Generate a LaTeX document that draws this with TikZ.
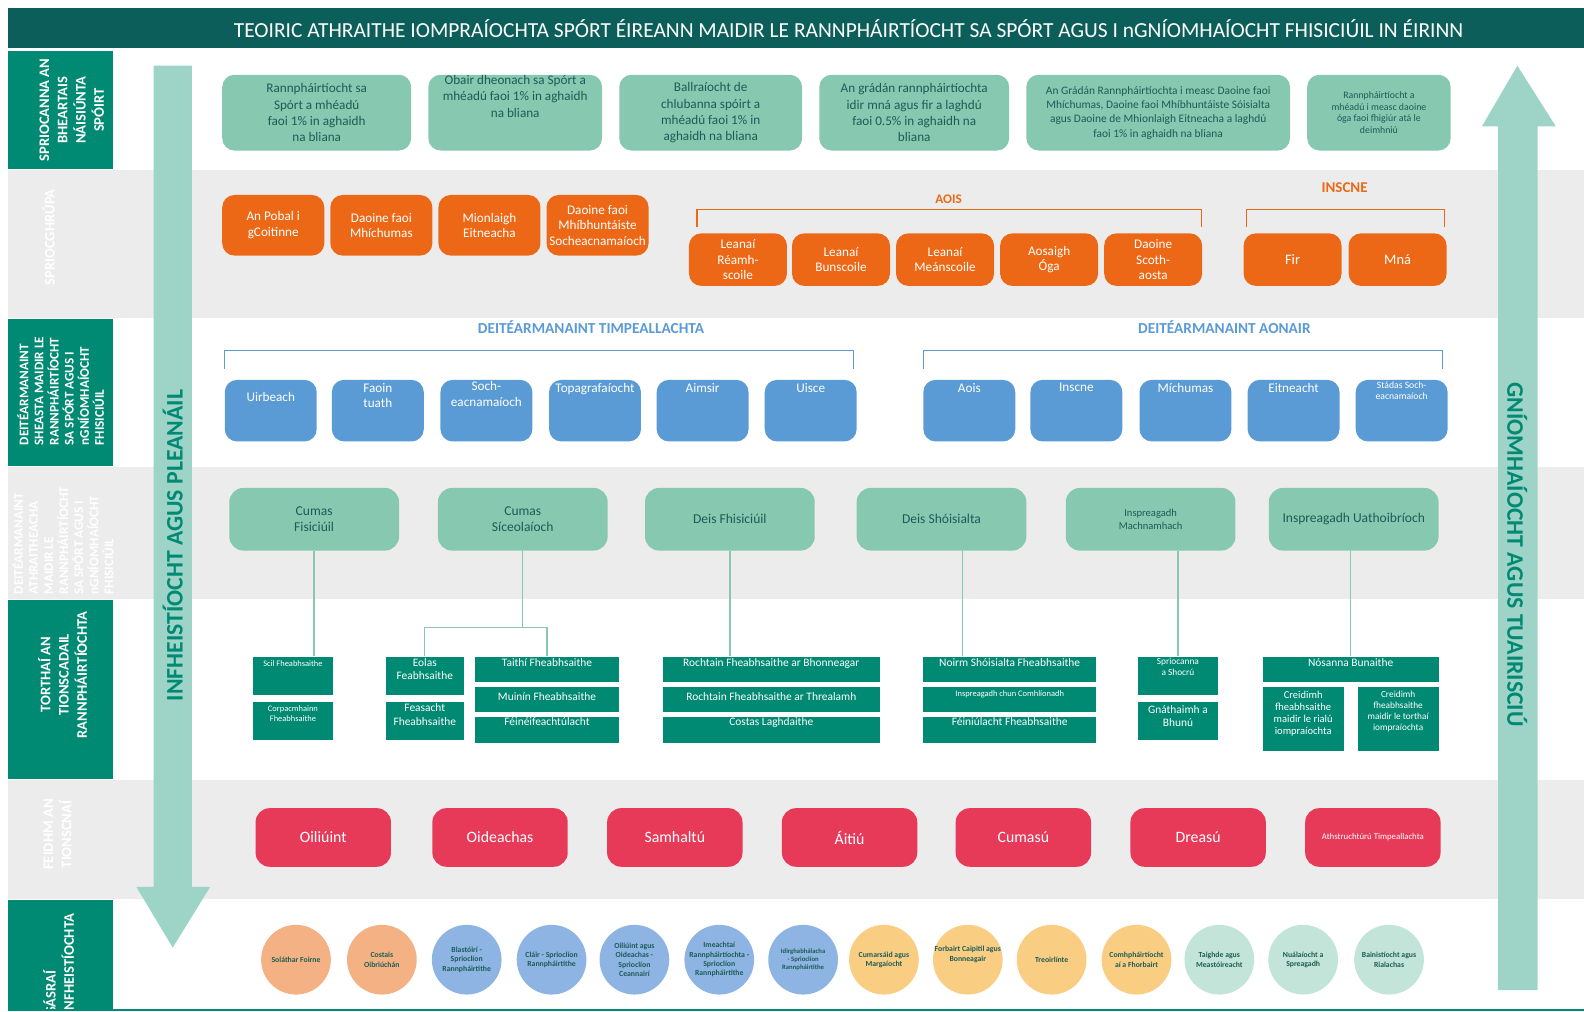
\documentclass[tikz,border=0pt]{standalone}
\usepackage{fontspec}
\setmainfont{Carlito}
\usetikzlibrary{calc}

\definecolor{titleBar}{RGB}{12,94,90}
\definecolor{tealBox}{RGB}{0,137,115}
\definecolor{bandGray}{RGB}{236,236,236}
\definecolor{arrowMint}{RGB}{158,212,200}
\definecolor{mint}{RGB}{134,200,176}
\definecolor{mintText}{RGB}{28,92,86}
\definecolor{orangeBox}{RGB}{236,104,22}
\definecolor{blueBox}{RGB}{91,155,213}
\definecolor{redBox}{RGB}{230,58,88}
\definecolor{salmonDot}{RGB}{244,177,131}
\definecolor{skyDot}{RGB}{141,180,226}
\definecolor{sandDot}{RGB}{250,206,130}
\definecolor{mintDot}{RGB}{195,228,216}

\newlength{\px}
\setlength{\px}{0.020204cm}
\newcommand{\setfs}[2]{\fontsize{#1}{#2}\selectfont}

\begin{document}
\begin{tikzpicture}[x=0.020204cm, y=-0.020204cm,
  sidelbl/.style={rotate=90, text=white, font=\bfseries\setfs{8.3}{10.4}, align=center, inner sep=0pt},
  arrowtxt/.style={text=tealBox, font=\bfseries\setfs{13.5}{16}, inner sep=0pt},
  goal/.style={fill=mint, rounded corners=7pt, text=mintText, align=center, font=\setfs{7.5}{9.2}, minimum height=75\px, inner sep=1pt},
  goallbl/.style={anchor=north, yshift=-0.5pt, align=center, text=mintText, font=\setfs{7.5}{9.2}, inner sep=0pt},
  grp/.style={fill=orangeBox, rounded corners=7pt, text=white, align=center, font=\setfs{7.5}{8.8}, minimum width=101\px, minimum height=60\px, inner sep=1pt},
  age/.style={grp, minimum width=97\px, minimum height=52\px},
  brk/.style={draw=#1, line width=0.7pt},
  brktitle/.style={font=\bfseries\setfs{7.5}{9}, inner sep=0pt},
  det/.style={fill=blueBox, rounded corners=7pt, minimum width=91\px, minimum height=61\px, inner sep=0pt},
  detlbl/.style={anchor=north, yshift=-2pt, align=center, text=white, font=\setfs{7.5}{8.8}, inner sep=0pt},
  mech/.style={fill=mint, rounded corners=8pt, text=mintText, align=center, font=\setfs{7.7}{9.2}, minimum width=168\px, minimum height=62\px, inner sep=1pt},
  outc/.style={fill=tealBox, minimum height=25\px, inner sep=0pt},
  outlbl/.style={anchor=north, yshift=-1pt, align=center, text=white, font=\setfs{6.5}{7.6}, inner sep=0pt},
  func/.style={fill=redBox, rounded corners=8pt, text=white, font=\setfs{9}{10.5}, align=center, minimum width=134\px, minimum height=58\px, inner sep=1pt},
  circ/.style={circle, fill=#1, minimum size=69\px, inner sep=0pt},
  ctxt/.style={text=mintText, font=\bfseries\setfs{4.4}{5.3}, align=center, inner sep=0pt},
  conn/.style={draw=mint, line width=0.8pt}
]

  \useasboundingbox (0,0) rectangle (1568,1001);
  \fill[white] (0,0) rectangle (1568,1001);

  % Title
  \fill[titleBar] (8,8) rectangle (1568,48);
  \node[text=white, font=\setfs{12.2}{14}] (title) at (840,28) {TEOIRIC ATHRAITHE IOMPRAÍOCHTA SPÓRT ÉIREANN MAIDIR LE RANNPHÁIRTÍOCHT SA SPÓRT AGUS I nGNÍOMHAÍOCHT FHISICIÚIL IN ÉIRINN};

  % Bands
  \fill[bandGray] (8,168) rectangle (1568,315);
  \fill[bandGray] (8,462) rectangle (1568,593);
  \fill[bandGray] (8,772) rectangle (1568,890);

  % Row labels
  \fill[tealBox] (8,50) rectangle (112,167);
  \fill[tealBox] (8,316) rectangle (112,461);
  \fill[tealBox] (8,594) rectangle (112,771);
  \fill[tealBox] (8,891) rectangle (112,999);
  \node[sidelbl] (lblGoals) at (71,109) {SPRIOCANNA AN\\BHEARTAIS\\NÁISIÚNTA\\SPÓIRT};
  \node[sidelbl] (lblGroups) at (48,235) {SPRIOCGHRÚPA};
  \node[sidelbl, align=left, font=\bfseries\setfs{7.5}{8.6}] (lblFixed) at (60,387) {DEITÉARMANAINT\\SHEASTA MAIDIR LE\\RANNPHÁIRTÍOCHT\\SA SPÓRT AGUS I\\nGNÍOMHAÍOCHT\\FHISICIÚIL};
  \node[sidelbl, align=left, font=\bfseries\setfs{7.5}{8.6}] (lblChange) at (62,535) {DEITÉARMANAINT\\ATHRAITHEACHA\\MAIDIR LE\\RANNPHÁIRTÍOCHT\\SA SPÓRT AGUS I\\nGNÍOMHAÍOCHT\\FHISICIÚIL};
  \node[sidelbl] (lblOut) at (62,668) {TORTHAÍ AN\\TIONSCADAIL\\RANNPHÁIRTÍOCHTA};
  \node[sidelbl] (lblFunc) at (57,826) {FEIDHM AN\\TIONSCNAÍ};
  \begin{scope}
    \clip (8,891) rectangle (112,999);
    \node[sidelbl, align=left, anchor=west] (lblMech) at (58,1004) {SÁSRAÍ\\INFHEISTÍOCHTA};
  \end{scope}

  % Big arrows
  \fill[arrowMint] (152,65) -- (190,65) -- (190,878) -- (208,878) -- (171,938) -- (135,878) -- (152,878) -- cycle;
  \node[arrowtxt, rotate=90] (plan) at (171,540) {INFHEISTÍOCHT AGUS PLEANÁIL};
  \fill[arrowMint] (1483,980) -- (1483,125) -- (1467,125) -- (1502,65) -- (1540,125) -- (1522,125) -- (1522,980) -- cycle;
  \node[arrowtxt, rotate=-90] (report) at (1502,549) {GNÍOMHAÍOCHT AGUS TUAIRISCIÚ};

  % Goals
  \node[goal, minimum width=187\px] (goal1) at (313.5,111.5) {Rannpháirtíocht sa\\Spórt a mhéadú\\faoi 1\% in aghaidh\\na bliana};
  \node[goal, minimum width=172\px, label={[goallbl]north:Obair dheonach sa Spórt a\\mhéadú faoi 1\% in aghaidh\\na bliana}] (goal2) at (510,111.5) {};
  \node[goal, minimum width=181\px] (goal3) at (703.5,111.5) {Ballraíocht de\\chlubanna spóirt a\\mhéadú faoi 1\% in\\aghaidh na bliana};
  \node[goal, minimum width=188\px] (goal4) at (905,111.5) {An grádán rannpháirtíochta\\idir mná agus fir a laghdú\\faoi 0.5\% in aghaidh na\\bliana};
  \node[goal, minimum width=261\px, font=\setfs{6.5}{8.2}] (goal5) at (1146.5,111.5) {An Grádán Rannpháirtíochta i measc Daoine faoi\\Mhíchumas, Daoine faoi Mhíbhuntáiste Sóisialta\\agus Daoine de Mhionlaigh Eitneacha a laghdú\\faoi 1\% in aghaidh na bliana};
  \node[goal, minimum width=142\px, font=\setfs{5.6}{6.8}] (goal6) at (1365,111.5) {Rannpháirtíocht a\\mhéadú i measc daoine\\óga faoi fhigiúr atá le\\deimhniú};

  % Target groups
  \node[grp] (pobal) at (270.5,223) {An Pobal i\\gCoitinne};
  \node[grp] (michumas) at (377.5,223) {Daoine faoi\\Mhíchumas};
  \node[grp] (mionlaigh) at (484.5,223) {Mionlaigh\\Eitneacha};
  \node[grp] (mibhunt) at (591.5,223) {Daoine faoi\\Mhíbhuntáiste\\Socheacnamaíoch};

  \draw[brk=orangeBox] (690,225) |- (1189,207) -- (1189,225);
  \node[brktitle, text=orangeBox] (aoisTitle) at (939,197) {AOIS};
  \node[age] (reamh) at (730.5,257) {Leanaí\\Réamh-\\scoile};
  \node[age] (bunsc) at (832.5,257) {Leanaí\\Bunscoile};
  \node[age] (meansc) at (935.5,257) {Leanaí\\Meánscoile};
  \node[age] (aosaigh) at (1038.5,257) {Aosaigh\\Óga};
  \node[age] (scoth) at (1141.5,257) {Daoine\\Scoth-\\aosta};

  \draw[brk=orangeBox] (1234,225) |- (1430,207) -- (1430,225);
  \node[brktitle, text=orangeBox, font=\bfseries\setfs{8.5}{10}] (inscneTitle) at (1331,186) {INSCNE};
  \node[age, font=\setfs{8.2}{9.5}] (fir) at (1279.5,257) {Fir};
  \node[age, font=\setfs{8.2}{9.5}] (mna) at (1383.5,257) {Mná};

  % Fixed determinants
  \node[brktitle, text=blueBox, font=\bfseries\setfs{8.7}{10}] (envTitle) at (585,324) {DEITÉARMANAINT TIMPEALLACHTA};
  \draw[brk=blueBox] (222,365) |- (845,347) -- (845,365);
  \node[det, label={[detlbl, yshift=-5pt]north:Uirbeach}] (uirbeach) at (268,406.5) {};
  \node[det, label={[detlbl]north:Faoin\\tuath}] (tuath) at (374,406.5) {};
  \node[det, label={[detlbl, yshift=1pt]north:Soch-\\eacnamaíoch}] (sochEnv) at (481.5,406.5) {};
  \node[det, label={[detlbl]north:Topagrafaíocht}] (topa) at (589,406.5) {};
  \node[det, label={[detlbl]north:Aimsir}] (aimsir) at (695.5,406.5) {};
  \node[det, label={[detlbl]north:Uisce}] (uisce) at (802.5,406.5) {};

  \node[brktitle, text=blueBox, font=\bfseries\setfs{8.7}{10}] (indTitle) at (1212,324) {DEITÉARMANAINT AONAIR};
  \draw[brk=blueBox] (914,365) |- (1428,347) -- (1428,365);
  \node[det, label={[detlbl]north:Aois}] (aois) at (959.5,406.5) {};
  \node[det, label={[detlbl]north:Inscne}] (inscne) at (1065.5,406.5) {};
  \node[det, label={[detlbl]north:Míchumas}] (michum) at (1173.5,406.5) {};
  \node[det, label={[detlbl]north:Eitneacht}] (eitneacht) at (1280.5,406.5) {};
  \node[det, label={[detlbl, font=\setfs{5.5}{6.6}, yshift=1pt]north:Stádas Soch-\\eacnamaíoch}] (stadas) at (1387.5,406.5) {};

  % Changeable determinants
  \node[mech] (cumasF) at (311,514) {Cumas\\Fisiciúil};
  \node[mech] (cumasS) at (517.5,514) {Cumas\\Síceolaíoch};
  \node[mech] (deisF) at (722.5,514) {Deis Fhisiciúil};
  \node[mech] (deisS) at (932,514) {Deis Shóisialta};
  \node[mech, font=\setfs{6}{7.2}] (inspM) at (1139,514) {Inspreagadh\\Machnamhach};
  \node[mech] (inspU) at (1340,514) {Inspreagadh Uathoibríoch};

  % Outcomes
  \node[outc, minimum width=80\px, minimum height=38\px, label={[outlbl, font=\setfs{4.8}{5.8}, yshift=-1pt]north:Scil Fheabhsaithe}] (scil) at (290,669) {};
  \node[outc, minimum width=80\px, minimum height=38\px, label={[outlbl, font=\setfs{4.8}{5.8}, yshift=-1pt]north:Corpacmhainn\\Fheabhsaithe}] (corp) at (290,714) {};
  \node[outc, minimum width=77\px, minimum height=38\px, label={[outlbl]north:Eolas\\Feabhsaithe}] (eolas) at (420.5,669) {};
  \node[outc, minimum width=77\px, minimum height=38\px, label={[outlbl]north:Feasacht\\Fheabhsaithe}] (feas) at (420.5,714) {};
  \node[outc, minimum width=143\px, label={[outlbl]north:Taithí Fheabhsaithe}] (taithi) at (541.5,662.5) {};
  \node[outc, minimum width=143\px, label={[outlbl, yshift=-2pt]north:Muinín Fheabhsaithe}] (muinin) at (541.5,692.5) {};
  \node[outc, minimum width=143\px, label={[outlbl, yshift=1pt]north:Féinéifeachtúlacht}] (fein) at (541.5,722.5) {};
  \node[outc, minimum width=215\px, label={[outlbl]north:Rochtain Fheabhsaithe ar Bhonneagar}] (roch1) at (763.5,662.5) {};
  \node[outc, minimum width=215\px, label={[outlbl, yshift=-2pt]north:Rochtain Fheabhsaithe ar Threalamh}] (roch2) at (763.5,692.5) {};
  \node[outc, minimum width=215\px, label={[outlbl, yshift=1pt]north:Costas Laghdaithe}] (costas) at (763.5,722.5) {};
  \node[outc, minimum width=171\px, label={[outlbl]north:Noirm Shóisialta Fheabhsaithe}] (noirm) at (999.5,662.5) {};
  \node[outc, minimum width=171\px, label={[outlbl, font=\setfs{4.8}{5.8}, yshift=-1pt]north:Inspreagadh chun Comhlíonadh}] (comhl) at (999.5,692.5) {};
  \node[outc, minimum width=171\px, label={[outlbl, yshift=1pt]north:Féiniúlacht Fheabhsaithe}] (feiniul) at (999.5,722.5) {};
  \node[outc, minimum width=80\px, minimum height=38\px, label={[outlbl, font=\setfs{5.3}{6.2}]north:Spriocanna\\a Shocrú}] (sprioc) at (1166,669) {};
  \node[outc, minimum width=80\px, minimum height=38\px, label={[outlbl, yshift=-1pt]north:Gnáthaimh a\\Bhunú}] (gnath) at (1166,714) {};
  \node[outc, minimum width=174\px, label={[outlbl]north:Nósanna Bunaithe}] (nosanna) at (1337,662.5) {};
  \node[outc, minimum width=80\px, minimum height=63\px, label={[outlbl, font=\setfs{6}{6.8}, yshift=-1.5pt]north:Creidimh\\fheabhsaithe\\maidir le rialú\\iompraíochta}] (creid1) at (1290,711.5) {};
  \node[outc, minimum width=80\px, minimum height=63\px, label={[outlbl, font=\setfs{5.3}{6.2}, yshift=-1.5pt]north:Creidimh\\fheabhsaithe\\maidir le torthaí\\iompraíochta}] (creid2) at (1384,711.5) {};

  % Connectors
  \coordinate (splitS) at (517.5,621);
  \draw[conn] (cumasF.south) -- (cumasF.south |- scil.north);
  \draw[conn] (cumasS.south) -- (splitS);
  \draw[conn] (eolas.north) |- (splitS) -| (taithi.north);
  \draw[conn] (deisF.south) -- (deisF.south |- roch1.north);
  \draw[conn] ([xshift=21\px]deisS.south) -- ([xshift=21\px]deisS.south |- noirm.north);
  \draw[conn] (sprioc.north) -- (sprioc.north |- inspM.south);
  \draw[conn] (nosanna.north) -- (nosanna.north |- inspU.south);

  % Functions
  \node[func] (oiliuint) at (320,829) {Oiliúint};
  \node[func] (oideachas) at (495,829) {Oideachas};
  \node[func] (samhaltu) at (668,829) {Samhaltú};
  \node[func] (aitiu) at (841,829) {Áitiú};
  \node[func] (cumasu) at (1013,829) {Cumasú};
  \node[func] (dreasu) at (1186,829) {Dreasú};
  \node[func, font=\setfs{5}{6}] (athstr) at (1359,829) {Athstruchtúrú Timpeallachta};

  % Mechanisms
  \node[circ=salmonDot, label={[ctxt]center:Soláthar Foirne}] (c1) at (293,950) {};
  \node[circ=salmonDot, label={[ctxt]center:Costais\\Oibriúchán}] (c2) at (378,950) {};
  \node[circ=skyDot, label={[ctxt]center:Blastóirí -\\Sprioclíon\\Rannpháirtithe}] (c3) at (462,950) {};
  \node[circ=skyDot, label={[ctxt]center:Cláir - Sprioclíon\\Rannpháirtithe}] (c4) at (546,950) {};
  \node[circ=skyDot, label={[ctxt]center:Oiliúint agus\\Oideachas -\\Sprioclíon\\Ceannairí}] (c5) at (628,950) {};
  \node[circ=skyDot, label={[ctxt]center:Imeachtaí\\Rannpháirtíochta -\\Sprioclíon\\Rannpháirtithe}] (c6) at (712,950) {};
  \node[circ=skyDot, label={[ctxt, font=\bfseries\setfs{3.8}{4.6}]center:Idirghabhálacha\\- Sprioclíon\\Rannpháirtithe}] (c7) at (795,950) {};
  \node[circ=sandDot, label={[ctxt]center:Cumarsáid agus\\Margaíocht}] (c8) at (875,950) {};
  \node[circ=sandDot, label={[ctxt, yshift=3pt]center:Forbairt Caipitil agus\\Bonneagair}] (c9) at (958,950) {};
  \node[circ=sandDot, label={[ctxt]center:Treoirlínte}] (c10) at (1041,950) {};
  \node[circ=sandDot, label={[ctxt]center:Comhpháirtíocht\\aí a Fhorbairt}] (c11) at (1125,950) {};
  \node[circ=mintDot, label={[ctxt]center:Taighde agus\\Meastóireacht}] (c12) at (1207,950) {};
  \node[circ=mintDot, label={[ctxt]center:Nuálaíocht a\\Spreagadh}] (c13) at (1290,950) {};
  \node[circ=mintDot, label={[ctxt]center:Bainistíocht agus\\Rialachas}] (c14) at (1375,950) {};

  \draw[tealBox, line width=1.2pt] (8,999.5) -- (1568,999.5);

\end{tikzpicture}
\end{document}
